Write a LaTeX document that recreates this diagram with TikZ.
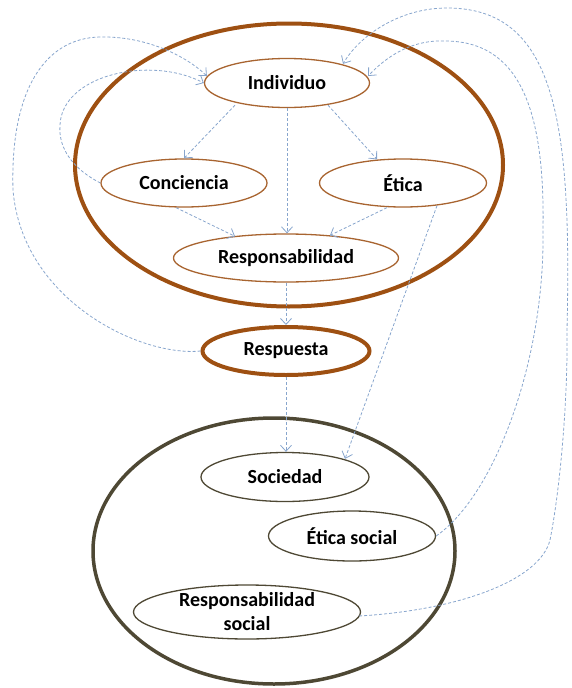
\documentclass[tikz,border=0pt]{standalone}
\usepackage{fontspec}
\setmainfont{Carlito}
\usetikzlibrary{shapes.geometric,arrows.meta,calc}
\definecolor{marron}{RGB}{158,80,18}
\definecolor{marronclaro}{RGB}{168,100,48}
\definecolor{oliva}{RGB}{78,72,52}
\definecolor{azulflecha}{RGB}{135,165,205}

\begin{document}
\begin{tikzpicture}[x=1pt,y=1pt,
  caja/.style={ellipse,draw=marronclaro,line width=1.3pt,inner sep=0pt,
    font=\fontsize{20}{24}\selectfont\bfseries,align=center},
  cajasoc/.style={caja,draw=oliva},
  grupo/.style={ellipse,draw=marron,line width=4pt,inner sep=0pt},
  flecha/.style={draw=azulflecha,line width=0.8pt,dash pattern=on 3pt off 2pt,
    -{Straight Barb[length=6pt,width=11pt]}}]
\useasboundingbox (0,0) rectangle (572,-688);
% grupos
\node[grupo,minimum width=428,minimum height=283] (grpInd) at (289,-165) {};
\node[grupo,draw=oliva,line width=3.5pt,minimum width=362,minimum height=266] (grpSoc) at (274,-551) {};
% individuo
\node[caja,minimum width=165,minimum height=49] (ind) at (287,-83) {Individuo};
\node[caja,minimum width=166,minimum height=48] (conc) at (184,-183) {Conciencia};
\node[caja,minimum width=167,minimum height=48] (etica) at (403,-183) {Ética};
\node[caja,minimum width=225,minimum height=48] (resp) at (286,-258) {Responsabilidad};
\node[caja,draw=marron,line width=4pt,minimum width=167,minimum height=48] (respu) at (286,-351) {Respuesta};
% sociedad
\node[cajasoc,minimum width=168,minimum height=49] (soc) at (285,-477) {Sociedad};
\node[cajasoc,minimum width=167,minimum height=50] (esoc) at (352,-536) {Ética social};
\node[cajasoc,minimum width=227,minimum height=48] (rsoc) at (247,-612) {Responsabilidad\\social};
% flechas
\draw[flecha] ($(ind.south)+(-52,3)$) -- (conc.north);
\draw[flecha] ($(ind.south)+(41,3)$) -- ($(etica.north)+(-26,-1)$);
\draw[flecha] (ind.south) -- (ind.south |- resp.north);
\draw[flecha] ($(conc.south)+(-8,0)$) -- ($(resp.north)+(-51,-3)$);
\draw[flecha] ($(etica.south)+(-16,0)$) -- ($(resp.north)+(44,-2)$);
\draw[flecha] (resp.south) -- (respu.north);
\draw[flecha] (respu.south) -- (respu.south |- soc.north);
\draw[flecha] ($(etica.south)+(34,2)$) -- ($(soc.north)+(60,-7)$);
\draw[flecha] (respu.west) .. controls (140,-357) and (22,-300) .. (13,-190)
  .. controls (10,-90) and (45,-38) .. (100,-37)
  .. controls (145,-36) and (185,-55) .. ($(ind.west)+(3,7)$);
\draw[flecha] (conc.west) .. controls (75,-170) and (58,-150) .. (60,-125)
  .. controls (62,-75) and (150,-55) .. (ind.west);
\draw[flecha] (esoc.east) .. controls (495,-495) and (545,-360) .. (543,-230)
  .. controls (545,-110) and (520,-40) .. (443,-41)
  .. controls (410,-40) and (385,-58) .. ($(ind.east)+(-2,7)$);
\draw[flecha] ($(rsoc.east)+(-2,-4)$) .. controls (460,-610) and (540,-580) .. (550,-540)
  .. controls (560,-490) and (568,-400) .. (567,-330)
  .. controls (572,-120) and (555,-8) .. (447,-8)
  .. controls (400,-8) and (360,-35) .. ($(ind.north)+(56,-6)$);
\end{tikzpicture}
\end{document}
